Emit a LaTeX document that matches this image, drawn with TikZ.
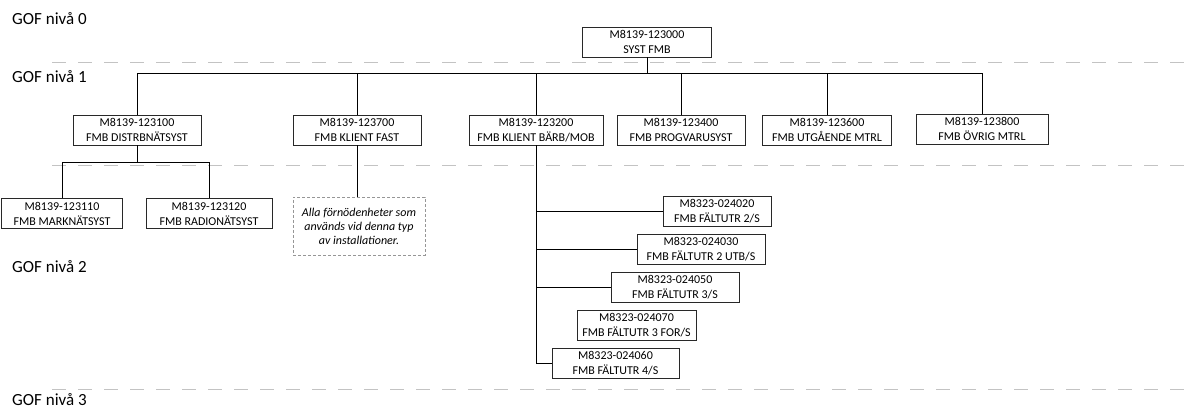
\documentclass[tikz,border=0pt]{standalone}
\usepackage{fontspec}
\setmainfont{Carlito}
\usepackage{tikz}
\usetikzlibrary{positioning}
\usepackage{xcolor}
\definecolor{LevelGray}{RGB}{195, 195, 195}
\definecolor{NoteGray}{RGB}{150, 150, 150}
\definecolor{BoxLine}{RGB}{40, 40, 40}

\begin{document}
\begin{tikzpicture}[x=1pt, y=1pt,
                    box/.style={draw=BoxLine, line width=0.9pt, fill=white, minimum height=30pt,
                                inner sep=0pt, align=center,
                                font=\fontsize{12}{15}\selectfont},
                    note/.style={draw=NoteGray, dashed, dash pattern=on 3pt off 2pt, line width=0.8pt,
                                 minimum width=132pt, minimum height=58pt, inner sep=0pt, align=center,
                                 font=\fontsize{12}{14}\selectfont\itshape},
                    level/.style={anchor=base west, inner sep=0pt, font=\fontsize{17}{20}\selectfont},
                    levelline/.style={LevelGray, line width=1pt, dash pattern=on 14pt off 12pt},
                    link/.style={black, line width=0.9pt}]
                    \useasboundingbox (0,0) rectangle (1188,409);
                    % nivålinjer
                    \draw[levelline] (52,346) -- (1188,346);
                    \draw[levelline] (52,243) -- (1188,243);
                    \draw[levelline] (52,19) -- (1188,19);
                    \node[level] (niva0) at (12,384) {GOF nivå 0};
                    \node[level] (niva1) at (12,326) {GOF nivå 1};
                    \node[level] (niva2) at (12,136) {GOF nivå 2};
                    \node[level] (niva3) at (12,3) {GOF nivå 3};
                    % nivå 0
                    \node[box, minimum width=129pt] (syst) at (647,367) {M8139-123000\\SYST FMB};
                    % nivå 1
                    \node[box, minimum width=128pt] (distr) at (137,279) {M8139-123100\\FMB DISTRBNÄTSYST};
                    \node[box, minimum width=128pt] (fast) at (357,279) {M8139-123700\\FMB KLIENT FAST};
                    \node[box, minimum width=134pt] (bm) at (536,279) {M8139-123200\\FMB KLIENT BÄRB/MOB};
                    \node[box, minimum width=128pt] (prog) at (681,279) {M8139-123400\\FMB PROGVARUSYST};
                    \node[box, minimum width=129pt] (utg) at (827,279) {M8139-123600\\FMB UTGÅENDE MTRL};
                    \node[box, minimum width=132pt] (ovr) at (982,280) {M8139-123800\\FMB ÖVRIG MTRL};
                    \coordinate (bus) at (647,336);
                    \draw[link] (syst.south) -- (bus);
                    \foreach \n in {distr,fast,bm,prog,utg,ovr}
                        \draw[link] (bus) -| (\n.north);
                    % nivå 2
                    \node[box, minimum width=121pt] (mark) at (62,195.5) {M8139-123110\\FMB MARKNÄTSYST};
                    \node[box, minimum width=126pt] (radio) at (209,195.5) {M8139-123120\\FMB RADIONÄTSYST};
                    \node[note] (anv) at (359,183) {Alla förnödenheter som\\används vid denna typ\\av installationer.};
                    \draw[link] (distr.south) -- ++(0,-17) coordinate (split);
                    \draw[link] (split) -| (mark.north);
                    \draw[link] (split) -| (radio.north);
                    \draw[link] (fast.south) -- (fast.south |- anv.north);
                    \node[box, minimum width=108pt] (f020) at (717,198) {M8323-024020\\FMB FÄLTUTR 2/S};
                    \node[box, minimum width=128pt] (f030) at (701,160) {M8323-024030\\FMB FÄLTUTR 2 UTB/S};
                    \node[box, minimum width=128pt] (f050) at (675,121.5) {M8323-024050\\FMB FÄLTUTR 3/S};
                    \node[box, minimum width=119pt] (f070) at (636.5,83.5) {M8323-024070\\FMB FÄLTUTR 3 FOR/S};
                    \node[box, minimum width=127pt] (f060) at (615.5,46) {M8323-024060\\FMB FÄLTUTR 4/S};
                    \draw[link] (bm.south) |- (f060.west);
                    \foreach \n in {f020,f030,f050}
                        \draw[link] (bm.south |- \n.west) -- (\n.west);
                \end{tikzpicture}
\end{document}
